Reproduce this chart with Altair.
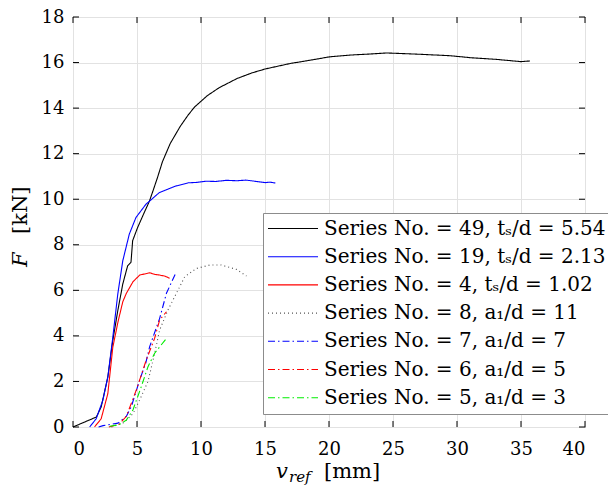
import altair as alt
import pandas as pd

# ---- data ----
s49_x = [0, 1.83, 2.2, 2.72, 3.11, 3.5, 3.89, 4.27, 4.53, 4.66, 5.05, 5.57, 5.96, 6.3, 6.6, 6.99, 7.6, 8.38, 9.0, 9.5, 10.5, 11.43, 12.82, 14.0, 15.03, 16.98, 18.5, 20.03, 21.69, 23.36, 24.5, 25.5, 27.24, 29.46, 31.12, 33.07, 35.0, 35.7]
s49_y = [0, 0.44, 0.88, 2.19, 3.8, 5.11, 6.28, 7.08, 7.23, 8.18, 8.76, 9.42, 9.9, 10.45, 10.95, 11.65, 12.45, 13.2, 13.7, 14.05, 14.55, 14.9, 15.3, 15.55, 15.72, 15.96, 16.1, 16.25, 16.33, 16.38, 16.42, 16.40, 16.36, 16.30, 16.21, 16.14, 16.04, 16.07]

s19_x = [1.3, 1.81, 2.33, 2.72, 3.11, 3.5, 3.89, 4.4, 4.92, 5.7, 6.74, 8.03, 9.0, 9.7, 10.4, 11.15, 12.0, 12.8, 13.5, 14.06, 15.03, 15.4, 15.81]
s19_y = [0, 0.36, 1.17, 2.19, 3.94, 5.84, 7.3, 8.47, 9.2, 9.78, 10.29, 10.58, 10.72, 10.74, 10.79, 10.78, 10.83, 10.81, 10.84, 10.8, 10.73, 10.75, 10.71]

s4_x = [1.68, 2.2, 2.72, 3.11, 3.52, 3.89, 4.17, 4.69, 5.21, 5.6, 5.99, 6.4, 6.77, 7.2, 7.55]
s4_y = [0, 0.36, 1.46, 3.5, 4.63, 5.5, 5.87, 6.38, 6.67, 6.72, 6.77, 6.70, 6.67, 6.62, 6.53]

s8_x = [3.0, 4.0, 4.7, 5.3, 5.86, 6.38, 6.77, 7.42, 8.08, 8.73, 9.64, 10.68, 11.59, 12.77, 13.55]
s8_y = [0, 0.2, 0.6, 1.3, 2.0, 3.24, 4.26, 5.14, 5.87, 6.6, 6.96, 7.11, 7.11, 6.92, 6.63]

s7_x = [2.0, 2.35, 3.52, 4.17, 4.56, 5.21, 5.68, 5.99, 6.77, 7.3, 8.02]
s7_y = [0, 0.06, 0.17, 0.47, 0.9, 2.07, 2.8, 3.53, 4.77, 5.87, 6.75]

s6_x = [2.8, 3.6, 4.17, 4.95, 5.73, 6.38, 6.77, 7.3]
s6_y = [0, 0.12, 0.47, 1.63, 2.95, 3.9, 4.7, 5.06]

s5_x = [2.87, 3.6, 4.17, 4.69, 5.34, 5.86, 6.38, 7.24]
s5_y = [0.03, 0.1, 0.3, 0.76, 1.78, 2.65, 3.24, 3.85]

labels = [
    "Series No. = 49, tₛ/d = 5.54",
    "Series No. = 19, tₛ/d = 2.13",
    "Series No. = 4, tₛ/d = 1.02",
    "Series No. = 8, a₁/d = 11",
    "Series No. = 7, a₁/d = 7",
    "Series No. = 6, a₁/d = 5",
    "Series No. = 5, a₁/d = 3",
]
colors = ["#000000", "#0000ff", "#ff0000", "#555555", "#0000fe", "#fe0000", "#00ee00"]
dashes = [[1, 0], [1, 0], [1, 0], [1, 3], [7, 3, 1.5, 3], [7, 3, 1.5, 3], [7, 3, 1.5, 3]]

x_ticks = [0, 5, 10, 15, 20, 25, 30, 35, 40]
y_ticks = [0, 2, 4, 6, 8, 10, 12, 14, 16, 18]

series_x = [s49_x, s19_x, s4_x, s8_x, s7_x, s6_x, s5_x]
series_y = [s49_y, s19_y, s4_y, s8_y, s7_y, s6_y, s5_y]

rows = []
for lab, xs_, ys_ in zip(labels, series_x, series_y):
    for i, (a, b) in enumerate(zip(xs_, ys_)):
        rows.append({"series": lab, "x": a, "y": b, "i": i})
df = pd.DataFrame(rows)

W, H = 512, 410
FONT = "DejaVu Serif"

xs = alt.Scale(domain=[0, 40], nice=False, zero=False)
ys = alt.Scale(domain=[0, 18], nice=False, zero=False)

leg = alt.Legend(
    orient="none", legendX=190, legendY=196, direction="vertical",
    symbolType="stroke", symbolSize=2500, symbolStrokeWidth=1.1,
    labelFont=FONT, labelFontSize=20, labelColor="black", labelLimit=500,
    labelOffset=5, strokeColor="#8c8c8c", fillColor="white", padding=4,
    clipHeight=23, rowPadding=5.2,
)

lines = alt.Chart(df).mark_line(strokeWidth=1.1).encode(
    x=alt.X("x:Q", scale=xs, title=None,
            axis=alt.Axis(values=x_ticks, labelPadding=13)),
    y=alt.Y("y:Q", scale=ys, title=None,
            axis=alt.Axis(values=y_ticks, labelPadding=9)),
    color=alt.Color("series:N", scale=alt.Scale(domain=labels, range=colors), title=None, legend=leg),
    strokeDash=alt.StrokeDash("series:N", scale=alt.Scale(domain=labels, range=dashes), title=None, legend=leg),
    order=alt.Order("i:Q"),
)

xt = pd.DataFrame({"x": x_ticks})
yt = pd.DataFrame({"y": y_ticks})
tick_len = 6
bt = alt.Chart(xt).mark_rule(color="black", strokeWidth=1).encode(
    x=alt.X("x:Q", scale=xs, title=None), y=alt.value(H), y2=alt.value(H - tick_len))
tt = alt.Chart(xt).mark_rule(color="black", strokeWidth=1).encode(
    x=alt.X("x:Q", scale=xs, title=None), y=alt.value(0), y2=alt.value(tick_len))
lt = alt.Chart(yt).mark_rule(color="black", strokeWidth=1).encode(
    y=alt.Y("y:Q", scale=ys, title=None), x=alt.value(0), x2=alt.value(tick_len))
rt = alt.Chart(yt).mark_rule(color="black", strokeWidth=1).encode(
    y=alt.Y("y:Q", scale=ys, title=None), x=alt.value(W), x2=alt.value(W - tick_len))

one = pd.DataFrame({"k": [0]})
def txt(s, x, y, size, italic=False, angle=0):
    kw = dict(font=FONT, fontSize=size, align="left", baseline="alphabetic", color="black")
    if italic:
        kw["fontStyle"] = "italic"
    if angle:
        kw["angle"] = angle
    return alt.Chart(one).mark_text(**kw).encode(
        x=alt.value(x), y=alt.value(y), text=alt.value(s))

titles = [
    txt("v", 203, 461, 21, italic=True),
    txt("ref", 216, 465, 15, italic=True),
    txt("[mm]", 251, 461, 21),
    txt("F", -46, 250, 21, italic=True, angle=270),
    txt("[kN]", -46, 217, 21, angle=270),
]

chart = alt.layer(lines, bt, tt, lt, rt, *titles).properties(
    width=W, height=H,
    autosize="none",
    padding={"left": 65, "top": 9, "right": 23, "bottom": 58},
).configure_view(
    stroke="black", strokeWidth=1
).configure_axis(
    labelFont=FONT, labelFontSize=18, labelColor="black",
    domain=False, ticks=False, grid=True, gridColor="#e2e2e2", gridWidth=1,
)

chart.save("out.html", embed_options={"renderer": "svg", "actions": False})
